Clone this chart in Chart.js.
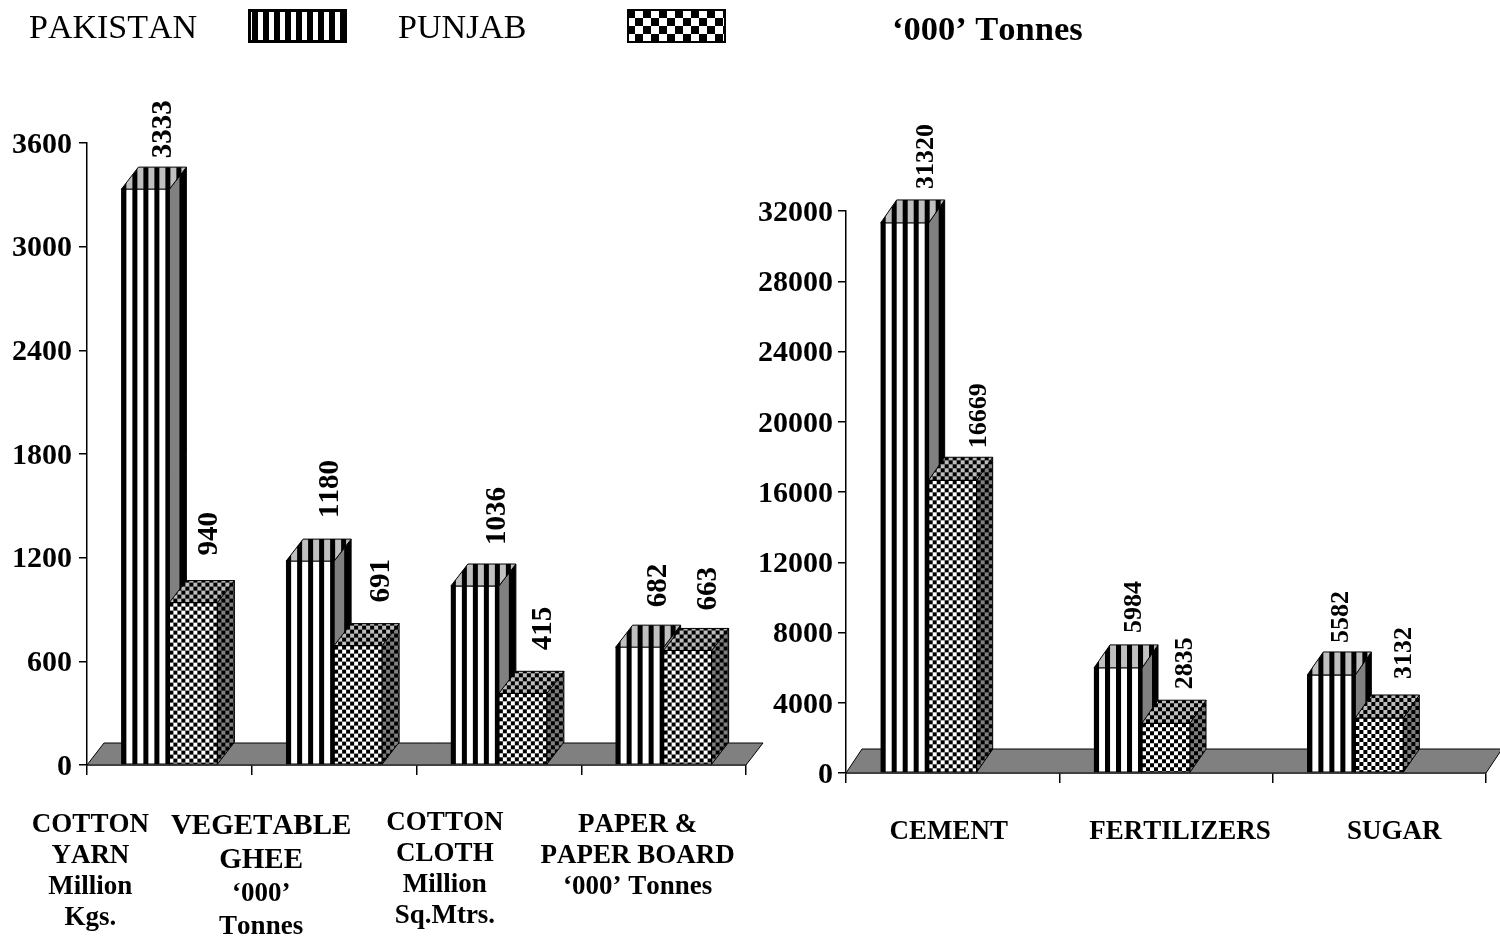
<!DOCTYPE html>
<html>
<head>
<meta charset="utf-8">
<script src="https://cdn.jsdelivr.net/npm/chart.js@4"></script>
<style>
html,body{margin:0;padding:0;background:#fff}
canvas{position:absolute;left:0;top:0}
</style>
</head>
<body>
<canvas id="left" width="1500" height="938"></canvas>
<canvas id="right" width="1500" height="938"></canvas>
<script>
// ---- data ----
const leftCategories = ['COTTON YARN', 'VEGETABLE GHEE', 'COTTON CLOTH', 'PAPER & PAPER BOARD'];
const leftPakistan = [3333, 1180, 1036, 682];
const leftPunjab = [940, 691, 415, 663];
const leftYTicks = [0, 600, 1200, 1800, 2400, 3000, 3600];
const leftLabelLines = [
  ['COTTON', 'YARN', 'Million', 'Kgs.'],
  ['VEGETABLE', 'GHEE', '‘000’', 'Tonnes'],
  ['COTTON', 'CLOTH', 'Million', 'Sq.Mtrs.'],
  ['PAPER &', 'PAPER BOARD', '‘000’ Tonnes']
];
const rightCategories = ['CEMENT', 'FERTILIZERS', 'SUGAR'];
const rightPakistan = [31320, 5984, 5582];
const rightPunjab = [16669, 2835, 3132];
const rightYTicks = [0, 4000, 8000, 12000, 16000, 20000, 24000, 28000, 32000];
const rightLabelLines = [['CEMENT'], ['FERTILIZERS'], ['SUGAR']];
const seriesNames = ['PAKISTAN', 'PUNJAB'];
const unitNote = '‘000’ Tonnes';

// ---- patterns ----
const SERIF = '"Liberation Serif"';
function tile(w, h, paint) {
  const c = document.createElement('canvas');
  c.width = w; c.height = h;
  paint(c.getContext('2d'));
  return c;
}
function stripeTile(light, period, bar) {
  return tile(period, 4, g => {
    g.fillStyle = light; g.fillRect(0, 0, period, 4);
    g.fillStyle = '#000'; g.fillRect(0, 0, bar, 4);
  });
}
function checkTile(light, cell) {
  return tile(cell * 2, cell * 2, g => {
    g.fillStyle = light; g.fillRect(0, 0, cell * 2, cell * 2);
    g.fillStyle = '#000';
    g.fillRect(0, 0, cell, cell); g.fillRect(cell, cell, cell, cell);
  });
}
const faces = [
  { front: stripeTile('#fff', 11, 5), top: stripeTile('#c0c0c0', 11, 5), side: stripeTile('#808080', 17, 7), sideShift: 10 },
  { front: checkTile('#fff', 4), top: checkTile('#bdbdbd', 4), side: checkTile('#808080', 4), sideShift: 0 }
];
function anchored(ctx, t, x, y) {
  const p = ctx.createPattern(t, 'repeat');
  p.setTransform(new DOMMatrix().translate(x, y));
  return p;
}
function poly(ctx, pts, fill) {
  ctx.beginPath();
  pts.forEach((p, i) => i ? ctx.lineTo(p[0], p[1]) : ctx.moveTo(p[0], p[1]));
  ctx.closePath();
  ctx.fillStyle = fill;
  ctx.fill();
  ctx.strokeStyle = '#000';
  ctx.lineWidth = 1;
  ctx.stroke();
}

// ---- 3-D look, value labels, category text ----
const solid3d = {
  id: 'solid3d',
  beforeInit(chart) { chart.ctx.fontKerning = 'none'; },
  beforeDraw(chart) { chart.ctx.fontKerning = 'none'; },
  beforeDatasetsDraw(chart, _a, o) {
    const x = chart.scales.x, y = chart.scales.y, ctx = chart.ctx, b = y.getPixelForValue(0);
    poly(ctx, [[x.left, b], [x.left + o.dx, b - o.floorDy], [x.right + o.dx, b - o.floorDy], [x.right, b]], '#808080');
    // front faces: pattern starts at each bar's own left edge
    [0, 1].forEach(d => chart.getDatasetMeta(d).data.forEach(el => {
      const l = el.x - el.width / 2;
      el.options = Object.assign({}, el.options, { backgroundColor: anchored(ctx, faces[d].front, l, el.y) });
    }));
  },
  beforeDatasetDraw(chart, args, o) {
    if (args.index !== 1) return;
    const ctx = chart.ctx;
    [0, 1].forEach(d => chart.getDatasetMeta(d).data.forEach(el => {
      const l = el.x - el.width / 2, r = el.x + el.width / 2, t = el.y, b = el.base;
      poly(ctx, [[r, t], [r + o.dx, t - o.dy], [r + o.dx, b - o.dy], [r, b]], anchored(ctx, faces[d].side, r + faces[d].sideShift, t));
      poly(ctx, [[l, t], [l + o.dx, t - o.dy], [r + o.dx, t - o.dy], [r, t]], anchored(ctx, faces[d].top, l, t));
    }));
  },
  afterDatasetsDraw(chart, _a, o) {
    const ctx = chart.ctx;
    ctx.save();
    ctx.fillStyle = '#000';
    ctx.font = 'bold ' + o.valueFont + 'px ' + SERIF;
    ctx.textBaseline = 'middle';
    ctx.textAlign = 'left';
    [0, 1].forEach(d => chart.getDatasetMeta(d).data.forEach((el, i) => {
      const nudge = o.valueNudge[d][i];
      ctx.save();
      ctx.translate(el.x + nudge[0], el.y - o.dy - nudge[1]);
      ctx.rotate(-Math.PI / 2);
      ctx.fillText(String(chart.data.datasets[d].data[i]), 0, 0);
      ctx.restore();
    }));
    // hand-placed category captions under the axis
    ctx.textAlign = 'center';
    o.lines.forEach((lines, i) => {
      const cx = chart.scales.x.getPixelForValue(i) + o.catShift[i][0];
      lines.forEach((s, k) => {
        const big = o.catBigLines && o.catBigLines[i] > k;
        ctx.font = 'bold ' + (big ? o.catFont + 2 : o.catFont) + 'px ' + SERIF;
        ctx.fillText(s, cx, o.catShift[i][1] + k * o.catLead[i]);
      });
    });
    if (o.legend) {
      ctx.textBaseline = 'alphabetic';
      ctx.textAlign = 'left';
      ctx.font = '34px ' + SERIF;
      ctx.fillText(seriesNames[0], 29, 38);
      ctx.fillText(seriesNames[1], 398, 38);
      [[248, stripeTile('#fff', 11, 6), 252, 3], [627, checkTile('#fff', 8), 627, 2]].forEach(s => {
        ctx.fillStyle = anchored(ctx, s[1], s[2], 10);
        ctx.fillRect(s[0], 9, 99, 34);
        ctx.strokeStyle = '#000';
        ctx.lineWidth = s[3];
        ctx.strokeRect(s[0] + s[3] / 2, 9 + s[3] / 2, 99 - s[3], 34 - s[3]);
      });
      ctx.fillStyle = '#000';
      ctx.font = 'bold 34.5px ' + SERIF;
      ctx.fillText(unitNote, 892, 40);
    }
    ctx.restore();
  }
};

function panel(id, cats, pak, pun, yTicks, opts, extra) {
  const axisBase = {
    grid: { drawOnChartArea: false, color: '#000', lineWidth: 1.5, tickColor: '#000' },
    border: { color: '#000', width: 1.5 }
  };
  const datasets = [
    { label: seriesNames[0], data: pak, backgroundColor: '#fff', borderColor: '#000', borderWidth: 1, borderSkipped: false, barThickness: 48 },
    { label: seriesNames[1], data: pun, backgroundColor: '#fff', borderColor: '#000', borderWidth: 1, borderSkipped: false, barThickness: 48 }
  ].concat(extra || []);
  return new Chart(document.getElementById(id), {
    type: 'bar',
    data: { labels: cats, datasets },
    plugins: [solid3d],
    options: {
      responsive: false,
      animation: false,
      devicePixelRatio: 1,
      clip: false,
      layout: { padding: { top: opts.top, right: 1500 - opts.axisRight, left: 0, bottom: 0 } },
      plugins: { legend: { display: false }, tooltip: { enabled: false }, solid3d: opts.draw },
      scales: {
        x: Object.assign({}, axisBase, {
          grid: Object.assign({}, axisBase.grid, { tickLength: 10 }),
          ticks: { display: false },
          afterFit: s => { s.height = 938 - opts.axisBottom; }
        }),
        y: Object.assign({}, axisBase, {
          min: yTicks[0],
          max: yTicks[yTicks.length - 1],
          grid: Object.assign({}, axisBase.grid, { tickLength: 8 }),
          afterBuildTicks: s => { s.ticks = yTicks.map(value => ({ value })); },
          ticks: { color: '#000', padding: opts.yPad, labelOffset: 2, callback: v => String(v), font: { family: SERIF, weight: 'bold', size: 30 } },
          afterFit: s => { s.width = opts.axisLeft; }
        })
      }
    }
  });
}

panel('left', leftCategories, leftPakistan, leftPunjab, leftYTicks,
  { top: 143, axisLeft: 87, axisRight: 746, axisBottom: 765, yPad: 7,
    draw: { dx: 17, dy: 22, floorDy: 22, valueFont: 29, catFont: 27, legend: true, lines: leftLabelLines,
      valueNudge: [[[18, 9], [20, 21], [23, 19], [19, 18]], [[16, 25], [23, 21], [21, 21], [21, 18]]],
      catShift: [[-79, 825], [-73, 827], [-54, 823], [-26, 825]], catLead: [31, 33.5, 31, 31], catBigLines: [0, 2, 0, 0] } });

// third, empty series: an empty slot in each group, as the 3-D layout leaves the bars left of the category centre
const rightSpacer = { label: '', data: [], barThickness: 48 };
panel('right', rightCategories, rightPakistan, rightPunjab, rightYTicks,
  { top: 211, axisLeft: 846, axisRight: 1486, axisBottom: 773, yPad: 5,
    draw: { dx: 16, dy: 23, floorDy: 24, valueFont: 26, catFont: 27, legend: false, lines: rightLabelLines,
      valueNudge: [[[22, 11], [16, 12], [10, 9]], [[27, 9], [19, 11], [25, 16]]],
      catShift: [[-4, 832], [14, 832], [15, 832]], catLead: [31, 31, 31] } }, [rightSpacer]);
</script>
</body>
</html>
